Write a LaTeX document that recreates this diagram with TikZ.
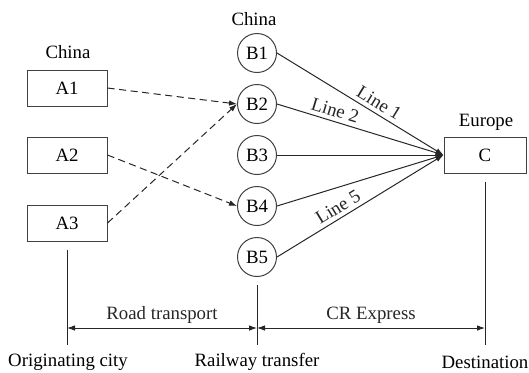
\documentclass[tikz,border=0pt]{standalone}
\usepackage{fontspec}
\setmainfont{Liberation Serif}
\usetikzlibrary{arrows.meta, positioning}

\begin{document}
\begin{tikzpicture}[x=0.5pt, y=-0.5pt, >={Latex[length=4pt, width=2.8pt]},
    font=\fontsize{9.4}{11}\selectfont, line width=0.5pt,
    box/.style={draw=black!75, minimum width=40pt, minimum height=18pt, inner sep=0pt},
    hub/.style={draw=black!75, circle, minimum size=19.5pt, inner sep=0pt},
    feeder/.style={->, black!85, dash pattern=on 3.6pt off 2.2pt},
    route/.style={->, black!85},
    tick/.style={black!85}]
  \useasboundingbox (0,0) rectangle (529,372);

  % Origin cities
  \node at (68, 52) {China};
  \node[box] (a1) at (67, 88) {A1};
  \node[box] (a2) at (67, 155) {A2};
  \node[box] (a3) at (67, 223) {A3};

  % Railway transfer hubs
  \node at (254, 19) {China};
  \foreach \i/\y in {1/53, 2/104, 3/155, 4/206, 5/257}
    \node[hub] (b\i) at (257, \y) {B\i};

  % Destination
  \node at (486, 122) {Europe};
  \node[box, minimum width=41pt] (c) at (485, 155) {C};

  % Road legs
  \draw[feeder] (a1.east) -- (b2.west);
  \draw[feeder] (a2.east) -- (b4.west);
  \draw[feeder] (a3.east) -- (b2.west);

  % Rail lines
  \draw[route] (b1.east) -- node[pos=0.58, sloped, above, inner sep=2pt] {Line 1} (c.west);
  \draw[route] (b2.east) -- node[pos=0.33, sloped, above, inner sep=2pt] {Line 2} (c.west);
  \draw[route] (b3.east) -- (c.west);
  \draw[route] (b4.east) -- (c.west);
  \draw[route] (b5.east) -- node[pos=0.4, sloped, above, inner sep=2pt] {Line 5} (c.west);

  % Stages
  \node (orig) at (68, 362) {Originating city};
  \node (rail) at (257, 362) {Railway transfer};
  \node (dest) at (485, 362) {Destination};
  \coordinate (o1) at (67, 345);
  \coordinate (r1) at (257, 345);
  \coordinate (d1) at (485, 345);
  \draw[tick] ([yshift=-4pt]a3.south) -- (o1);
  \draw[tick] ([yshift=-4pt]b5.south) -- (r1);
  \draw[tick] ([yshift=-4pt]c.south) -- (d1);

  \coordinate (o2) at (67, 328);
  \coordinate (r2) at (257, 328);
  \coordinate (d2) at (485, 328);
  \draw[<->, tick] (o2) -- node[above, inner sep=2pt] {Road transport} (r2);
  \draw[<->, tick] (r2) -- node[above, inner sep=2pt] {CR Express} (d2);
\end{tikzpicture}
\end{document}
